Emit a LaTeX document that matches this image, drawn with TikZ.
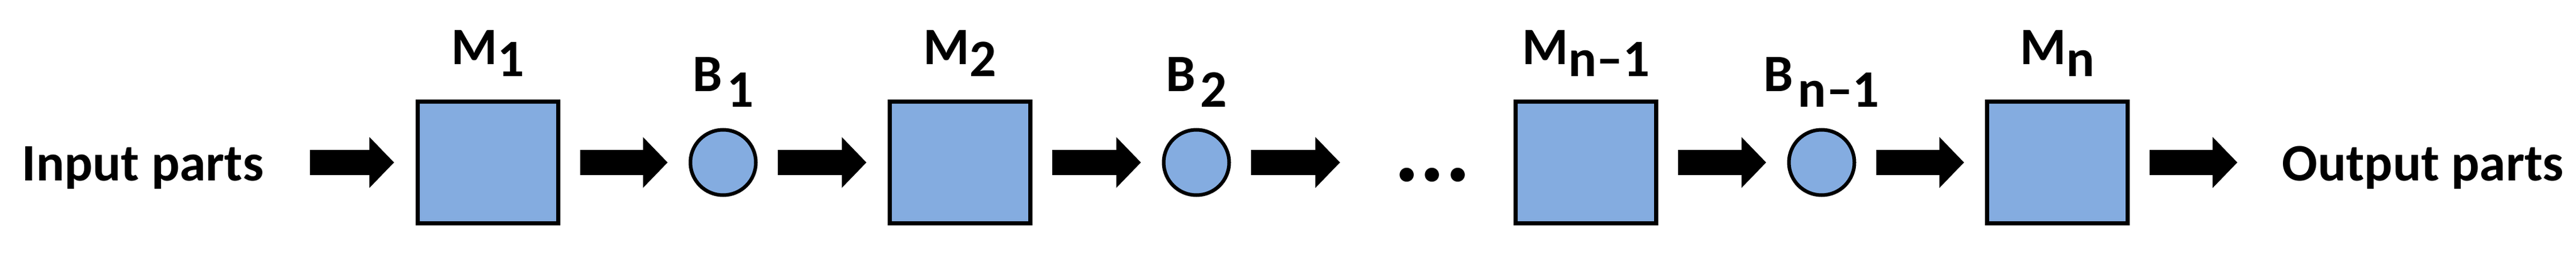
\documentclass[tikz,border=0pt]{standalone}
\usepackage{fontspec}
\setmainfont{Carlito}
\usetikzlibrary{arrows.meta,positioning}
\definecolor{boxblue}{RGB}{132,172,224}
\newcommand{\lowsub}[2][0.2cm]{\raisebox{-#1}{#2}}
\tikzset{font=\bfseries\fontsize{25}{30}\selectfont}
\tikzset{
  machine/.style={draw, line width=0.07cm, fill=boxblue, minimum width=2.34cm, minimum height=2.03cm, inner sep=0pt},
  buffer/.style={draw, circle, line width=0.06cm, fill=boxblue, minimum size=1.09cm, inner sep=0pt},
  tag/.style={inner sep=0pt},
  flow/.style={line width=0.42cm, -{Triangle[length=0.41cm,width=0.85cm,line width=0pt]}, shorten <=0.33cm, shorten >=0.35cm}
}

\begin{document}
\begin{tikzpicture}
  \useasboundingbox (0,0) rectangle (42.89,4.21);

  % machines and buffers
  \foreach \name/\x/\idx in {m1/8.125/1, m2/15.98/2, mn1/26.405/{n\textendash 1}, mn/34.255/n}{
    \node[machine] (\name) at (\x,1.5) {};
    \node[tag, above=0.38cm of \name] (\name-tag) {M\lowsub{\idx}};
  };
  \foreach \name/\x/\idx in {b1/12.04/1, b2/19.92/2, bn1/30.33/{n\textendash 1}}{
    \node[buffer] (\name) at (\x,1.5) {};
    \node[tag, above=0.34cm of \name] (\name-tag) {B\hspace{0.08cm}\lowsub[0.26cm]{\idx}};
  };

  \node[tag, anchor=base west] (in) at (0.36,1.20) {Input parts};
  \node[tag, anchor=base west] (out) at (37.99,1.20) {Output parts};
  \node[tag, anchor=base west, font=\bfseries\fontsize{45}{50}\selectfont] (dots) at (23.21,1.19) {...};

  % flow of parts
  \foreach \a/\b in {m1/b1, b1/m2, m2/b2, mn1/bn1, bn1/mn}
    \draw[flow] (\a) -- (\b);
  \draw[flow, shorten <=0.76cm, shorten >=0.36cm] (in.east |- m1) -- (m1);
  \draw[flow, shorten >=0.90cm] (b2) -- (b2 -| dots.west);
  \draw[flow, shorten >=0.74cm] (mn) -- (mn -| out.west);
\end{tikzpicture}
\end{document}
